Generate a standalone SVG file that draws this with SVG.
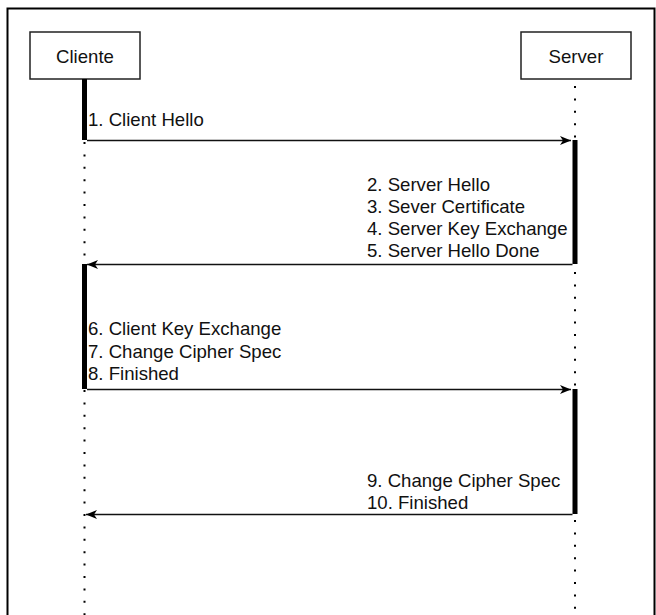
<svg xmlns="http://www.w3.org/2000/svg" width="656" height="615" viewBox="0 0 656 615">
  <style>
    .box { fill: #ffffff; stroke: #222222; stroke-width: 1.5; }
    .lbl { font-family: "Liberation Sans", Arial, sans-serif; font-size: 18.6px; fill: #111111; }
    .life { stroke: #000000; stroke-width: 2; stroke-dasharray: 2 10.4; fill: none; }
    .act { fill: #000000; }
    .msg { stroke: #111111; stroke-width: 1.5; fill: none; }
  </style>
  <defs>
    <marker id="arr" markerUnits="userSpaceOnUse" markerWidth="12" markerHeight="10" refX="11" refY="5" orient="auto">
      <path d="M0,0.5 L11,5 L0,9.5 L3,5 Z" fill="#000000"/>
    </marker>
  </defs>
  <rect x="7.5" y="8.5" width="647" height="630" fill="#ffffff" stroke="#000000" stroke-width="2"/>

  <g id="lifelines">
    <line class="life" x1="84.5" y1="80" x2="84.5" y2="615"/>
    <line class="life" x1="575" y1="86" x2="575" y2="615"/>
  </g>

  <g id="cliente">
    <rect class="box" x="30" y="32" width="110" height="47"/>
    <text class="lbl" x="85" y="62.5" text-anchor="middle">Cliente</text>
  </g>
  <g id="server">
    <rect class="box" x="521" y="32" width="110" height="47"/>
    <text class="lbl" x="576" y="62.5" text-anchor="middle">Server</text>
  </g>

  <g id="activations">
    <rect class="act" x="82" y="79" width="5" height="61"/>
    <rect class="act" x="572.5" y="140" width="5" height="124"/>
    <rect class="act" x="82" y="264" width="5" height="125"/>
    <rect class="act" x="572.5" y="389" width="5" height="125"/>
  </g>

  <g id="connectors">
    <line class="msg" x1="87" y1="140.5" x2="571" y2="140.5" marker-end="url(#arr)"/>
    <line class="msg" x1="572.5" y1="264.5" x2="87" y2="264.5" marker-end="url(#arr)"/>
    <line class="msg" x1="87" y1="389.5" x2="571" y2="389.5" marker-end="url(#arr)"/>
    <line class="msg" x1="572.5" y1="514.5" x2="86" y2="514.5" marker-end="url(#arr)"/>
  </g>

  <g id="labels">
    <text class="lbl" x="88" y="126">1. Client Hello</text>
    <text class="lbl" x="367" y="190.5">2. Server Hello</text>
    <text class="lbl" x="367" y="212.5">3. Sever Certificate</text>
    <text class="lbl" x="367" y="234.5">4. Server Key Exchange</text>
    <text class="lbl" x="367" y="256.5">5. Server Hello Done</text>
    <text class="lbl" x="88" y="335">6. Client Key Exchange</text>
    <text class="lbl" x="88" y="357.5">7. Change Cipher Spec</text>
    <text class="lbl" x="88" y="380">8. Finished</text>
    <text class="lbl" x="367" y="486.5">9. Change Cipher Spec</text>
    <text class="lbl" x="367" y="508.5">10. Finished</text>
  </g>
</svg>
